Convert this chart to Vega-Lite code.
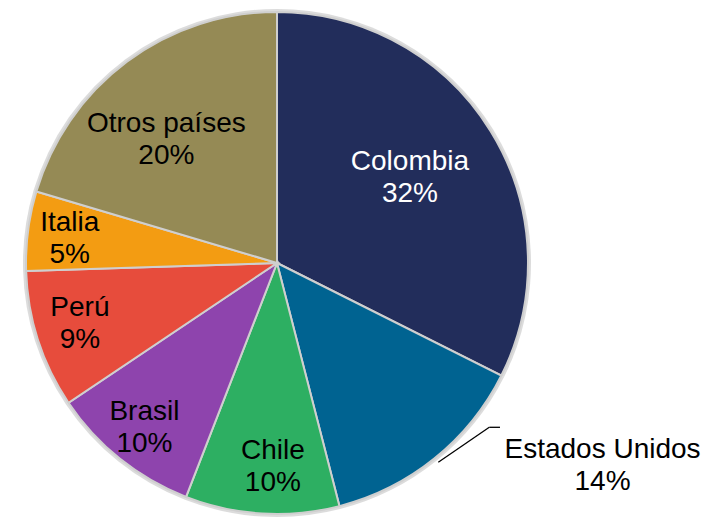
{
  "$schema": "https://vega.github.io/schema/vega-lite/v6.json",
  "width": 544,
  "height": 516,
  "background": "white",
  "view": {"stroke": null},
  "data": {"values": [
    {"pais": "Colombia", "valor": 0.324, "orden": 1},
    {"pais": "Estados Unidos", "valor": 0.136, "orden": 2},
    {"pais": "Chile", "valor": 0.099, "orden": 3},
    {"pais": "Brasil", "valor": 0.097, "orden": 4},
    {"pais": "Perú", "valor": 0.089, "orden": 5},
    {"pais": "Italia", "valor": 0.051, "orden": 6},
    {"pais": "Otros países", "valor": 0.204, "orden": 7}
  ]},
  "layer": [
    {
      "mark": {"type": "arc", "outerRadius": 254, "fill": "#9a9a9a", "opacity": 0.35, "strokeWidth": 0},
      "encoding": {
        "theta": {"field": "valor", "type": "quantitative", "stack": true},
        "order": {"field": "orden", "type": "quantitative"}
      }
    },
    {
      "mark": {"type": "arc", "outerRadius": 251, "stroke": "#cfcfcf", "strokeWidth": 2},
      "encoding": {
        "theta": {"field": "valor", "type": "quantitative", "stack": true},
        "order": {"field": "orden", "type": "quantitative"},
        "color": {
          "field": "pais", "type": "nominal", "legend": null,
          "scale": {
            "domain": ["Colombia", "Estados Unidos", "Chile", "Brasil", "Perú", "Italia", "Otros países"],
            "range": ["#222d5b", "#006391", "#2daf62", "#8e44ad", "#e74c3c", "#f39c12", "#958a55"]
          }
        }
      }
    },
    {
      "mark": {
        "type": "text", "font": "Liberation Sans", "fontSize": 28, "align": "center", "baseline": "middle",
        "radius": {"expr": "datum.pais=='Colombia'?158:datum.pais=='Estados Unidos'?251:datum.pais=='Chile'?204:datum.pais=='Brasil'?212:datum.pais=='Perú'?207:datum.pais=='Italia'?209:165"},
        "dx": {"expr": "datum.pais=='Estados Unidos'?168:datum.pais=='Otros países'?-12:datum.pais=='Chile'?8:datum.pais=='Colombia'?-1.5:0"},
        "dy": {"expr": "(datum.pais=='Estados Unidos'?7.7:datum.pais=='Otros países'?9:datum.pais=='Italia'?3:datum.pais=='Perú'?-2.4:datum.pais=='Colombia'?-2:0)-16"}
      },
      "encoding": {
        "theta": {"field": "valor", "type": "quantitative", "stack": true},
        "order": {"field": "orden", "type": "quantitative"},
        "text": {"field": "pais", "type": "nominal"},
        "color": {"condition": {"test": "datum.pais=='Colombia'", "value": "white"}, "value": "black"}
      }
    },
    {
      "mark": {
        "type": "text", "font": "Liberation Sans", "fontSize": 28, "align": "center", "baseline": "middle",
        "radius": {"expr": "datum.pais=='Colombia'?158:datum.pais=='Estados Unidos'?251:datum.pais=='Chile'?204:datum.pais=='Brasil'?212:datum.pais=='Perú'?207:datum.pais=='Italia'?209:165"},
        "dx": {"expr": "datum.pais=='Estados Unidos'?168:datum.pais=='Otros países'?-12:datum.pais=='Chile'?8:datum.pais=='Colombia'?-1.5:0"},
        "dy": {"expr": "(datum.pais=='Estados Unidos'?7.7:datum.pais=='Otros países'?9:datum.pais=='Italia'?3:datum.pais=='Perú'?-2.4:datum.pais=='Colombia'?-2:0)+16"}
      },
      "encoding": {
        "theta": {"field": "valor", "type": "quantitative", "stack": true},
        "order": {"field": "orden", "type": "quantitative"},
        "text": {"field": "valor", "type": "quantitative", "format": ".0%"},
        "color": {"condition": {"test": "datum.pais=='Colombia'", "value": "white"}, "value": "black"}
      }
    },
    {
      "data": {"values": [{"guia": "Estados Unidos"}]},
      "mark": {"type": "rule", "color": "black", "strokeWidth": 1.3},
      "encoding": {
        "x": {"datum": 0.6426, "type": "quantitative", "scale": {"domain": [-1.0837, 1.0837], "nice": false, "zero": false}, "axis": null},
        "y": {"datum": -0.794, "type": "quantitative", "scale": {"domain": [-1.0279, 1.0279], "nice": false, "zero": false}, "axis": null},
        "x2": {"datum": 0.8458},
        "y2": {"datum": -0.6546}
      }
    },
    {
      "data": {"values": [{"guia": "Estados Unidos"}]},
      "mark": {"type": "rule", "color": "black", "strokeWidth": 1.3},
      "encoding": {
        "x": {"datum": 0.8458, "type": "quantitative"},
        "y": {"datum": -0.6546, "type": "quantitative"},
        "x2": {"datum": 0.8884}
      }
    }
  ]
}
